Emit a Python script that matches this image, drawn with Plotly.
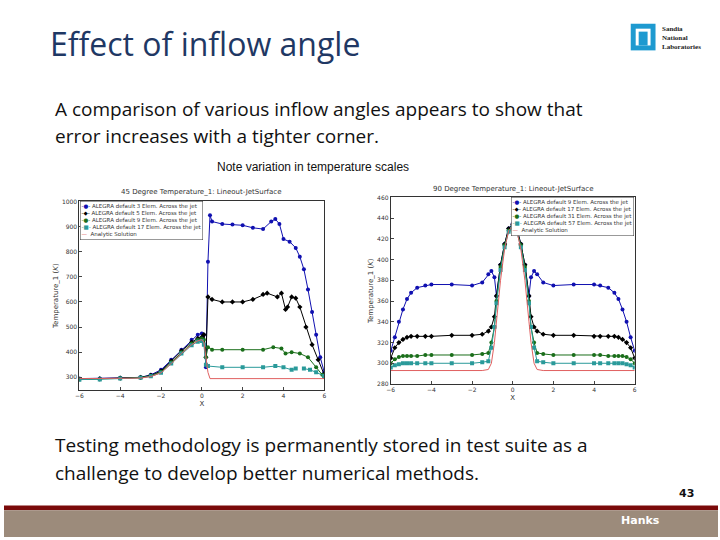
import plotly.graph_objects as go

W, H = 720, 540

# ---- 45 degree lineout ----
x45_e3 = [-6, -5, -4, -3, -2.5, -2, -1.5, -1, -0.5, -0.2, 0, 0.1, 0.2, 0.3, 0.4, 0.5, 1, 1.5, 2, 2.5, 3, 3.4, 3.6, 3.8, 4, 4.3, 4.6, 4.8, 5.0, 5.2, 5.4, 5.6, 5.8, 6]
t45_e3 = [295, 295, 298, 300, 310, 330, 370, 410, 450, 470, 475, 470, 340, 760, 945, 920, 910, 908, 905, 895, 890, 920, 930, 910, 850, 840, 815, 780, 730, 650, 560, 470, 380, 320]
x45_e5 = [-6, -5, -4, -3, -2.5, -2, -1.5, -1, -0.5, -0.2, 0, 0.1, 0.2, 0.3, 0.5, 1, 1.5, 2, 2.5, 3, 3.2, 3.7, 3.9, 4.1, 4.2, 4.4, 4.6, 4.8, 5.1, 5.4, 5.7, 6]
t45_e5 = [293, 294, 297, 300, 308, 325, 365, 405, 440, 455, 460, 470, 380, 620, 610, 600, 600, 600, 610, 630, 635, 620, 635, 570, 580, 620, 615, 580, 500, 430, 370, 310]
x45_e9 = [-6, -5, -4, -3, -2.5, -2, -1.5, -1, -0.5, -0.2, 0, 0.1, 0.2, 0.3, 0.5, 1, 2, 3, 3.5, 3.9, 4.1, 4.4, 4.8, 5.2, 5.6, 5.9, 6]
t45_e9 = [292, 293, 296, 299, 306, 322, 360, 400, 435, 450, 455, 450, 380, 420, 410, 410, 410, 410, 420, 415, 395, 400, 395, 380, 340, 310, 300]
x45_e17 = [-6, -5, -4, -3, -2.5, -2, -1.5, -1, -0.5, -0.2, 0, 0.1, 0.2, 0.3, 1, 2, 3, 3.6, 4.0, 4.4, 4.6, None, 5.0, 5.3, 5.6, 6]
t45_e17 = [291, 292, 295, 298, 304, 318, 355, 395, 428, 442, 445, 430, 350, 345, 340, 340, 340, 345, 340, 330, 335, None, 335, 330, 320, 305]
x45_an = [-6, -3, -2.5, -2, -1.5, -1, -0.5, -0.2, 0, 0.1, 0.3, 0.4, 6]
t45_an = [295, 297, 303, 318, 355, 395, 430, 445, 450, 440, 320, 295, 295]

# ---- 90 degree lineout (left half, mirrored about x=0) ----
xh = [-6, -5.8, -5.6, -5.4, -5.2, -5, -4.7, -4.3, -4, -3, -2, -1.5, -1.2, -1.05, -0.9, -0.8, -0.6, -0.4, -0.2, 0]
t90_e9h = [312, 325, 340, 352, 362, 368, 373, 375, 376, 376, 375, 378, 386, 389, 383, 365, 395, 415, 430, 435]
t90_e17h = [305, 315, 320, 323, 325, 326, 326, 326, 326, 327, 327, 328, 331, 335, 345, 365, 395, 415, 430, 434]
t90_e31h = [300, 304, 306, 307, 307, 307, 307, 308, 308, 308, 308, 309, 310, 320, 335, 360, 393, 414, 428, 432]
t90_e57h = [296, 298, 299, 300, 300, 300, 300, 300, 300, 300, 300, 301, 302, 315, 335, 358, 390, 412, 427, 431]
t90_anh = [293, 293, 293, 293, 293, 293, 293, 293, 293, 293, 293, 293, 294, 300, 320, 340, 380, 410, 428, 432]

names45 = ["ALEGRA default 3 Elem. Across the jet", "ALEGRA default 5 Elem. Across the jet",
           "ALEGRA default 9 Elem. Across the jet", "ALEGRA default 17 Elem. Across the jet",
           "Analytic Solution"]
names90 = ["ALEGRA default 9 Elem. Across the jet", "ALEGRA default 17 Elem. Across the jet",
           "ALEGRA default 31 Elem. Across the jet", "ALEGRA default 57 Elem. Across the jet",
           "Analytic Solution"]


def mirror(xs, ys):
    return xs + [-v for v in reversed(xs[:-1])], ys + list(reversed(ys[:-1]))


BLUE, BLACK, GREEN, TEAL, RED = "#1010b0", "#000000", "#1a6e1a", "#2a9a9a", "#e06060"
styles = [(BLUE, "circle", "●"), (BLACK, "diamond", "◆"), (GREEN, "circle", "●"), (TEAL, "square", "■")]

fig = go.Figure()

left = list(zip([x45_e3, x45_e5, x45_e9, x45_e17], [t45_e3, t45_e5, t45_e9, t45_e17]))
for (xs, ys), name, (c, sym, _) in zip(left, names45, styles):
    fig.add_trace(go.Scatter(x=xs, y=ys, name=name, mode="lines+markers",
                             line=dict(color=c, width=1), marker=dict(color=c, symbol=sym, size=4),
                             xaxis="x", yaxis="y"))
fig.add_trace(go.Scatter(x=x45_an, y=t45_an, name=names45[4], mode="lines",
                         line=dict(color=RED, width=1), xaxis="x", yaxis="y"))

for ys, name, (c, sym, _) in zip([t90_e9h, t90_e17h, t90_e31h, t90_e57h], names90, styles):
    xs, yy = mirror(xh, ys)
    fig.add_trace(go.Scatter(x=xs, y=yy, name=name, mode="lines+markers",
                             line=dict(color=c, width=1), marker=dict(color=c, symbol=sym, size=4),
                             xaxis="x2", yaxis="y2"))
xs, yy = mirror(xh, t90_anh)
fig.add_trace(go.Scatter(x=xs, y=yy, name=names90[4], mode="lines",
                         line=dict(color=RED, width=1), xaxis="x2", yaxis="y2"))


def px(v):
    return v / W


def py(v):
    return 1 - v / H


def legend_text(names):
    rows = [f"<span style='color:{c}'>-{g}-</span> {n}" for n, (c, _, g) in zip(names, styles)]
    rows.append(f"<span style='color:{RED}'>—</span>  {names[4]}")
    return "<br>".join(rows)


ax = dict(showgrid=False, zeroline=False, showline=True, mirror=True, linecolor="#333",
          ticks="inside", ticklen=3, tickfont=dict(size=6, color="#333"),
          title_font=dict(size=7, color="#333"), title_standoff=2)

fig.update_layout(
    width=W, height=H, margin=dict(l=0, r=0, t=0, b=0), showlegend=False,
    paper_bgcolor="white", plot_bgcolor="white", font=dict(family="DejaVu Sans"),
    xaxis=dict(ax, domain=[px(76), px(323)], range=[-6, 6], dtick=2, title_text="X", anchor="y"),
    yaxis=dict(ax, domain=[py(391), py(200)], range=[250, 1000], dtick=100,
               title_text="Temperature_1 (<i>K</i>)", anchor="x"),
    xaxis2=dict(ax, domain=[px(390), px(636)], range=[-6, 6], dtick=2, title_text="X", anchor="y2"),
    yaxis2=dict(ax, domain=[py(385), py(196)], range=[280, 460], dtick=20,
                title_text="Temperature_1 (<i>K</i>)", anchor="x2"),
)

ann = [
    dict(x=px(44), y=py(40), text="Effect of inflow angle", font=dict(size=32, color="#1f3864", family="Open Sans")),
    dict(x=px(49), y=py(106), text="A comparison of various inflow angles appears to show that", font=dict(size=19, color="#111", family="Open Sans")),
    dict(x=px(49), y=py(134), text="error increases with a tighter corner.", font=dict(size=19, color="#111", family="Open Sans")),
    dict(x=px(213), y=py(165), text="Note variation in temperature scales", font=dict(size=12, color="#111", family="Liberation Sans")),
    dict(x=px(49), y=py(447), text="Testing methodology is permanently stored in test suite as a", font=dict(size=19, color="#111", family="Open Sans")),
    dict(x=px(49), y=py(475), text="challenge to develop better numerical methods.", font=dict(size=19, color="#111", family="Open Sans")),
    dict(x=px(679), y=py(496), text="<b>43</b>", font=dict(size=11, color="#111")),
    dict(x=px(620), y=py(523), text="<b>Hanks</b>", font=dict(size=11, color="white")),
    dict(x=px(662), y=py(34), text="<b>Sandia<br>National<br>Laboratories</b>",
         font=dict(size=7, color="#222", family="Liberation Sans Narrow")),
    dict(x=px(199), y=py(190), text="45 Degree Temperature_1: Lineout-JetSurface", xanchor="center", font=dict(size=7, color="#333")),
    dict(x=px(513), y=py(187), text="90 Degree Temperature_1: Lineout-JetSurface", xanchor="center", font=dict(size=7, color="#333")),
    dict(x=px(77), y=py(219), text=legend_text(names45), font=dict(size=5.5, color="#333"),
         bgcolor="white", bordercolor="#333", borderwidth=0.5, borderpad=1),
    dict(x=px(635), y=py(215), text=legend_text(names90), xanchor="right", font=dict(size=5.5, color="#333"),
         bgcolor="white", bordercolor="#333", borderwidth=0.5, borderpad=1),
]
for a in ann:
    a.setdefault("xanchor", "left")
    fig.add_annotation(xref="paper", yref="paper", yanchor="middle", showarrow=False, align="left", **a)

shapes = [
    dict(x0=0, x1=W, y0=508, y1=513, fillcolor="#7a0a0a"),
    dict(x0=0, x1=W, y0=513, y1=540, fillcolor="#9c8b7b"),
    dict(x0=632, x1=657, y0=20, y1=47, fillcolor="#1e9ad0"),
    dict(x0=637, x1=652, y0=25, y1=42, fillcolor="white"),
    dict(x0=640, x1=649, y0=28, y1=42, fillcolor="#1e9ad0"),
]
for s in shapes:
    fig.add_shape(type="rect", xref="paper", yref="paper", line_width=0,
                  x0=px(s["x0"]), x1=px(s["x1"]), y0=py(s["y1"]), y1=py(s["y0"]),
                  fillcolor=s["fillcolor"], layer="below")

fig.write_html("out.html", config={"displayModeBar": False},
               post_script="document.body.style.margin='0';document.body.style.overflow='hidden';")
